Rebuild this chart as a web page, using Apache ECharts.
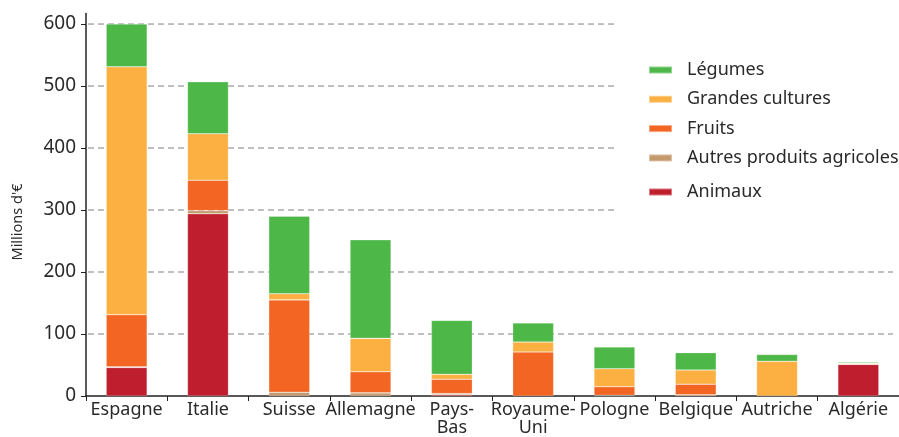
<!DOCTYPE html>
<html><head><meta charset="utf-8">
<script src="https://cdn.jsdelivr.net/npm/echarts@6/dist/echarts.min.js"></script>
<style>html,body{margin:0;padding:0;background:#fff}#c{width:899px;height:437px}</style>
</head><body><div id="c"></div>
<script>
var categories = ["Espagne","Italie","Suisse","Allemagne","Pays-\nBas","Royaume-\nUni","Pologne","Belgique","Autriche","Algérie"];
var animaux   = [46, 294, 0, 0, 2, 0, 0, 0, 0, 51];
var autres    = [1, 5, 6, 5, 2, 0, 1, 2, 0, 0];
var fruits    = [84, 49, 149, 34, 23, 71, 14, 17, 0, 1];
var grandes   = [400, 75, 10, 54, 8, 16, 29, 23, 56, 1.5];
var legumes   = [69, 84, 125, 159, 87, 31, 35, 28, 11, 2];
var yTicks = [0, 100, 200, 300, 400, 500, 600];
var yTitle = "Millions d'€";

var FONT = "Noto Sans";
var colors = {leg:"#4db848", gc:"#fbb041", fr:"#f26522", au:"#c49a6c", an:"#be1e2d"};
function mk(name, data, color){
  return {name:name, type:'bar', stack:'t',
    data:data.map(function(v){return v===0 ? '-' : v;}), barWidth:41,
    itemStyle:{color:color, borderColor:'rgba(255,255,255,0.4)', borderWidth:0.6}};
}
var chart = echarts.init(document.getElementById('c'));
var legText = {fontFamily:FONT, fontSize:18, color:'#2a2a2a', lineHeight:20, padding:[0,0,0,10]};
var option = {
  animation:false,
  textStyle:{fontFamily:FONT},
  grid:{left:86, top:13.5, width:815, height:382.5},
  legend:[{
    data:["Légumes","Grandes cultures","Fruits","Autres produits agricoles"],
    orient:'vertical', left:643, top:55, icon:'rect', itemWidth:23, itemHeight:7, itemGap:9.3,
    textStyle:legText
  },{
    data:["Animaux"],
    orient:'vertical', left:643, top:177, icon:'rect', itemWidth:23, itemHeight:7,
    textStyle:legText
  }],
  xAxis:{type:'category', data:categories,
    axisLine:{lineStyle:{color:'#222', width:1.5}},
    axisTick:{show:true, length:5, lineStyle:{color:'#222'}},
    axisLabel:{fontFamily:FONT, fontSize:18, color:'#2a2a2a', margin:5, lineHeight:18, interval:0}
  },
  yAxis:{type:'value', min:0, max:617, interval:100,
    axisLine:{show:true, lineStyle:{color:'#222', width:1.5}},
    axisTick:{show:true, length:5, customValues:yTicks, lineStyle:{color:'#222'}},
    axisLabel:{fontFamily:FONT, fontSize:19, color:'#2a2a2a', margin:10, customValues:yTicks},
    splitLine:{show:false}
  },
  series:[
    mk("Animaux", animaux, colors.an),
    mk("Autres produits agricoles", autres, colors.au),
    mk("Fruits", fruits, colors.fr),
    mk("Grandes cultures", grandes, colors.gc),
    mk("Légumes", legumes, colors.leg)
  ]
};
chart.setOption(option);
var g = [];
yTicks.forEach(function(v){
  if(v===0) return;
  var y = chart.convertToPixel({yAxisIndex:0}, v);
  var xEnd = v >= 300 ? 615 : 893;
  g.push({type:'line', z:-1, shape:{x1:88, y1:y, x2:xEnd, y2:y},
    style:{stroke:'#808080', lineWidth:1, lineDash:[6,4]}});
});
g.push({type:'text', x:18, y:222, rotation:Math.PI/2,
  style:{text:yTitle, fontFamily:FONT, fontSize:14.5, fill:'#2a2a2a', align:'center', verticalAlign:'middle'}});
chart.setOption({graphic:g});
</script></body></html>
